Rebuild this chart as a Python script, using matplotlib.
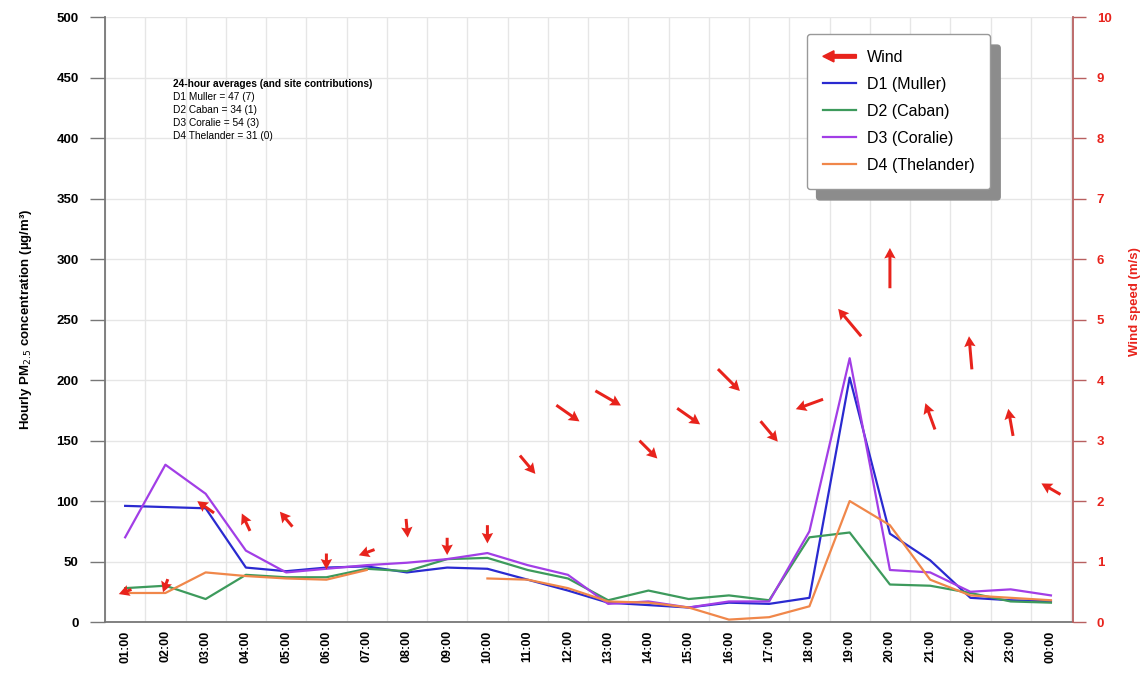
import matplotlib.pyplot as plt
import matplotlib.patches as mpatches
from matplotlib.legend_handler import HandlerBase
import numpy as np

plt.rcParams['font.family'] = ['Liberation Sans', 'DejaVu Sans']

hours = ['01:00', '02:00', '03:00', '04:00', '05:00', '06:00', '07:00', '08:00',
         '09:00', '10:00', '11:00', '12:00', '13:00', '14:00', '15:00', '16:00',
         '17:00', '18:00', '19:00', '20:00', '21:00', '22:00', '23:00', '00:00']

d1_muller = [96, 95, 94, 45, 42, 45, 46, 41, 45, 44, 35, 26, 16, 14, 12, 16,
             15, 20, 202, 73, 51, 20, 18, 17]
d2_caban = [28, 30, 19, 39, 37, 37, 44, 42, 52, 53, 43, 36, 18, 26, 19, 22,
            18, 70, 74, 31, 30, 24, 17, 16]
d3_coralie = [70, 130, 106, 59, 41, 44, 47, 49, 52, 57, 47, 39, 15, 17, 12, 17,
              17, 75, 218, 43, 41, 25, 27, 22]
d4_thelander = [24, 24, 41, 38, 36, 35, 43, np.nan, np.nan, 36, 35, 28, 17, 16, 12, 2,
                4, 13, 100, 80, 35, 22, 20, 18]

# wind speed (m/s) and the direction the arrow points (degrees, counter-clockwise from east)
wind_speed = [0.5, 0.6, 1.9, 1.65, 1.7, 1.0, 1.15, 1.55, 1.25, 1.45, 2.6, 3.45,
              3.7, 2.85, 3.4, 4.0, 3.15, 3.6, 4.95, 5.85, 3.4, 4.45, 3.3, 2.2]
wind_dir = [200, 250, 145, 115, 130, 270, 200, 275, 270, 270, 310, 325,
            330, 315, 325, 315, 310, 200, 130, 90, 110, 95, 100, 150]

averages = ['24-hour averages (and site contributions)',
            'D1 Muller = 47 (7)',
            'D2 Caban = 34 (1)',
            'D3 Coralie = 54 (3)',
            'D4 Thelander = 31 (0)']

x = np.arange(len(hours))
RED = '#e8231c'


class ArrowHandler(HandlerBase):
    def create_artists(self, legend, orig_handle, xdescent, ydescent,
                       width, height, fontsize, trans):
        arr = mpatches.FancyArrow(width, height / 2, -width, 0, width=2.6,
                                  head_width=8, head_length=8,
                                  length_includes_head=True, color=RED,
                                  transform=trans)
        return [arr]


fig = plt.figure(figsize=(11.44, 6.81), dpi=100)
ax = fig.add_axes([0.0918, 0.0866, 0.8462, 0.8884])

ax.plot(x, d1_muller, color='#2a2ad0', lw=1.6, label='D1 (Muller)')
ax.plot(x, d2_caban, color='#3d9a5c', lw=1.6, label='D2 (Caban)')
ax.plot(x, d3_coralie, color='#a23ee6', lw=1.6, label='D3 (Coralie)')
ax.plot(x, d4_thelander, color='#f0874a', lw=1.6, label='D4 (Thelander)')

ax.set_xlim(-0.5, 23.55)
ax.set_ylim(0, 500)
ax.set_yticks(np.arange(0, 501, 50))
ax.set_xticks(x)
ax.set_xticklabels(hours, rotation=90, fontweight='bold', fontsize=9)
ax.tick_params(axis='x', length=0, pad=6)
ax.tick_params(axis='y', length=11, width=1, color='#777777', direction='out', pad=8)
for lab in ax.get_yticklabels():
    lab.set_fontweight('bold')
    lab.set_fontsize(9.5)

# grid between the hours and at every left tick
ax.set_xticks(np.arange(-0.5, 24, 1), minor=True)
ax.tick_params(axis='x', which='minor', length=0)
ax.grid(True, which='minor', axis='x', color='#e6e6e6', lw=1)
ax.grid(True, which='major', axis='y', color='#e6e6e6', lw=1)
ax.set_axisbelow(True)

ax.spines['top'].set_visible(False)
ax.spines['right'].set_visible(False)
ax.spines['left'].set_color('#777777')
ax.spines['bottom'].set_color('#777777')
ax.spines['left'].set_linewidth(1.3)
ax.spines['bottom'].set_linewidth(1.3)

ax.set_ylabel('Hourly PM$_{2.5}$ concentration (\u00b5g/m\u00b3)', fontweight='bold',
              fontsize=9.5, labelpad=16)

# 24-hour averages box
ty = 0.897
for i, line in enumerate(averages):
    ax.text(0.070, ty - i * 0.0215, line, transform=ax.transAxes, fontsize=7.3,
            fontweight='bold' if i == 0 else 'normal', va='top', ha='left')

# wind on the right axis
ax2 = ax.twinx()
ax2.set_ylim(0, 10)
ax2.set_yticks(np.arange(0, 11, 1))
ax2.tick_params(axis='y', colors=RED, length=9, width=1, pad=8)
ax2.tick_params(axis='y', color='#b86060')
for lab in ax2.get_yticklabels():
    lab.set_fontweight('bold')
    lab.set_fontsize(9.5)
for s in ['top', 'left', 'bottom']:
    ax2.spines[s].set_visible(False)
ax2.spines['right'].set_color('#b86060')
ax2.spines['right'].set_linewidth(1.3)
ax2.set_ylabel('Wind speed (m/s)', color=RED, fontweight='bold',
               fontsize=9.5, labelpad=10)
ax2.yaxis.set_label_coords(1.058, 0.53)

ws = np.array(wind_speed)
ang = np.radians(wind_dir)
length = 11 + 5 * ws
ax2.quiver(x, ws, length * np.cos(ang), length * np.sin(ang),
           units='dots', angles='uv', scale_units='dots', scale=1,
           width=3.0, headwidth=3.8, headlength=3.5, headaxislength=3.1,
           pivot='middle', color=RED, zorder=5)

handles = [mpatches.Patch(color=RED, label='Wind')] + ax.get_lines()
labels = ['Wind', 'D1 (Muller)', 'D2 (Caban)', 'D3 (Coralie)', 'D4 (Thelander)']
leg = ax2.legend(handles, labels, loc='upper left', bbox_to_anchor=(0.725, 0.972),
                 handler_map={mpatches.Patch: ArrowHandler()},
                 fontsize=11.5, frameon=True, fancybox=True, framealpha=1,
                 edgecolor='#999999', borderpad=1.0, labelspacing=0.75,
                 handlelength=2.1, handletextpad=0.65, borderaxespad=0,
                 shadow={'ox': 7, 'oy': -8, 'shade': 0.45, 'alpha': 1})
leg.get_frame().set_linewidth(1)

fig.savefig('out.png', dpi=100)
